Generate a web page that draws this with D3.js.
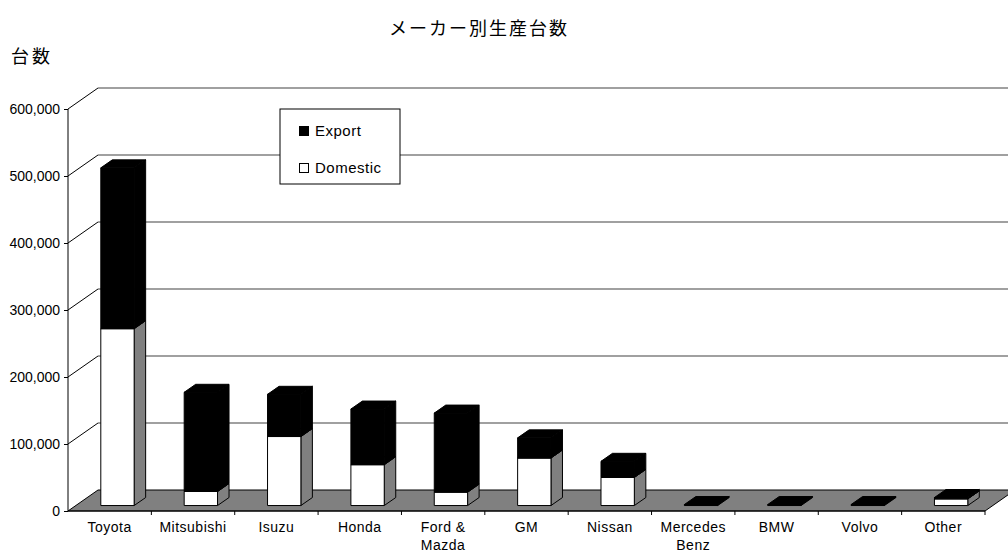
<!DOCTYPE html>
<html>
<head>
<meta charset="utf-8">
<script src="https://cdn.jsdelivr.net/npm/d3@7"></script>
<style>
  body { margin: 0; background: #fff; }
</style>
</head>
<body>
<svg id="chart"></svg>
<script>
// chart data
const makers = ["Toyota", "Mitsubishi", "Isuzu", "Honda", "Ford &\nMazda", "GM", "Nissan", "Mercedes\nBenz", "BMW", "Volvo", "Other"];
const domestic = [264000, 21000, 103000, 61000, 20000, 71000, 42000, 0, 0, 0, 10000];
const exports = [240000, 148000, 63000, 83000, 118000, 30000, 24000, 1500, 1500, 1500, 2000];
const yTicks = [0, 100000, 200000, 300000, 400000, 500000, 600000];
const seriesNames = ["Export", "Domestic"];
const titleText = "メーカー別生産台数";
const yTitle = "台数";

const width = 1008, height = 552;
const depthX = 30, depthY = 21;        // floor / wall depth
const barDX = 11.5, barDY = 8;         // bar's own depth
const barOff = 0.26;                   // bar front position in depth
const latin = "'Liberation Sans', Arial, sans-serif";
const cjk = "'Noto Sans CJK JP', sans-serif";

const svg = d3.select("#chart")
    .attr("width", width)
    .attr("height", height)
    .attr("font-family", latin);

const x = d3.scaleBand(makers, [68, 985]);
const y = d3.scaleLinear([0, 600000], [511, 109]);

// back wall gridlines + depth lines from front axis
const grid = svg.append("g");
yTicks.filter(d => d > 0).forEach(v => {
  grid.append("line")
      .attr("x1", x.range()[0] + depthX).attr("x2", width)
      .attr("y1", y(v) - depthY).attr("y2", y(v) - depthY)
      .attr("stroke", "#808080").attr("stroke-width", 1.5);
  grid.append("line")
      .attr("x1", x.range()[0]).attr("y1", y(v))
      .attr("x2", x.range()[0] + depthX).attr("y2", y(v) - depthY)
      .attr("stroke", "#000").attr("stroke-width", 1);
});

// floor
const x0 = x.range()[0], x1 = x.range()[1], y0 = y(0);
svg.append("polygon")
   .attr("points", [[x0, y0], [x1, y0], [x1 + depthX, y0 - depthY], [x0 + depthX, y0 - depthY]].join(" "))
   .attr("fill", "#808080").attr("stroke", "#000").attr("stroke-width", 1);

// bars
const bw = x.bandwidth() * 0.4;
const ox = depthX * barOff, oy = depthY * barOff;
const bars = svg.append("g").attr("stroke", "#000").attr("stroke-width", 1).attr("stroke-linejoin", "round");

makers.forEach((m, i) => {
  const left = x(m) + (x.bandwidth() - bw) / 2 + ox;
  const segs = [
    {lo: 0, hi: domestic[i], fill: "#fff", side: "#808080"},
    {lo: domestic[i], hi: domestic[i] + exports[i], fill: "#000", side: "#000"}
  ].filter(s => s.hi > s.lo);
  segs.forEach((s, k) => {
    const yt = y(s.hi) - oy, yb = y(s.lo) - oy;
    bars.append("polygon")
        .attr("points", [[left + bw, yb], [left + bw + barDX, yb - barDY], [left + bw + barDX, yt - barDY], [left + bw, yt]].join(" "))
        .attr("fill", s.side);
    bars.append("rect")
        .attr("x", left).attr("y", yt)
        .attr("width", bw).attr("height", Math.max(0, yb - yt))
        .attr("fill", s.fill);
    bars.append("polygon")
        .attr("points", [[left, yt], [left + barDX, yt - barDY], [left + bw + barDX, yt - barDY], [left + bw, yt]].join(" "))
        .attr("fill", k === segs.length - 1 ? "#000" : s.fill);
  });
});

// front y axis
const yAxis = d3.axisLeft(y).tickValues(yTicks).tickFormat(d3.format(",")).tickSize(4).tickPadding(4);
svg.append("g")
   .attr("transform", `translate(${x0},0)`)
   .call(yAxis)
   .call(g => g.select(".domain").attr("d", `M0,${y(600000)}V${y0}`))
   .selectAll("text")
   .attr("font-size", 14).attr("fill", "#000")
   .attr("font-family", latin);

// bottom axis line + ticks at category boundaries
const xg = svg.append("g");
xg.append("line").attr("x1", x0).attr("x2", x1).attr("y1", y0).attr("y2", y0).attr("stroke", "#000");
makers.forEach(m => {
  xg.append("line").attr("x1", x(m) + x.bandwidth()).attr("x2", x(m) + x.bandwidth())
    .attr("y1", y0).attr("y2", y0 + 4).attr("stroke", "#000");
});
makers.forEach(m => {
  const t = xg.append("text")
      .attr("x", x(m) + x.bandwidth() / 2)
      .attr("y", y0 + 21)
      .attr("text-anchor", "middle")
      .attr("font-size", 14)
      .attr("letter-spacing", 0.5);
  m.split("\n").forEach((line, j) => {
    t.append("tspan").attr("x", x(m) + x.bandwidth() / 2).attr("dy", j ? 18 : 0).text(line);
  });
});

// legend
const lg = svg.append("g").attr("transform", "translate(280,109)");
lg.append("rect").attr("width", 120).attr("height", 75).attr("fill", "#fff").attr("stroke", "#000");
seriesNames.forEach((s, i) => {
  const yy = 27 + i * 37;
  lg.append("rect").attr("x", 19.5).attr("y", yy - 9.5).attr("width", 9).attr("height", 9)
    .attr("fill", s === "Export" ? "#000" : "#fff").attr("stroke", "#000");
  lg.append("text").attr("x", 35).attr("y", yy).attr("font-size", 15)
    .attr("letter-spacing", 0.5).text(s);
});

// titles
svg.append("text")
   .attr("x", 479).attr("y", 35)
   .attr("text-anchor", "middle")
   .attr("font-family", cjk)
   .attr("font-size", 18).attr("letter-spacing", 2)
   .text(titleText);
svg.append("text")
   .attr("x", 11).attr("y", 63)
   .attr("font-family", cjk)
   .attr("font-size", 18).attr("letter-spacing", 3)
   .text(yTitle);
</script>
</body>
</html>
